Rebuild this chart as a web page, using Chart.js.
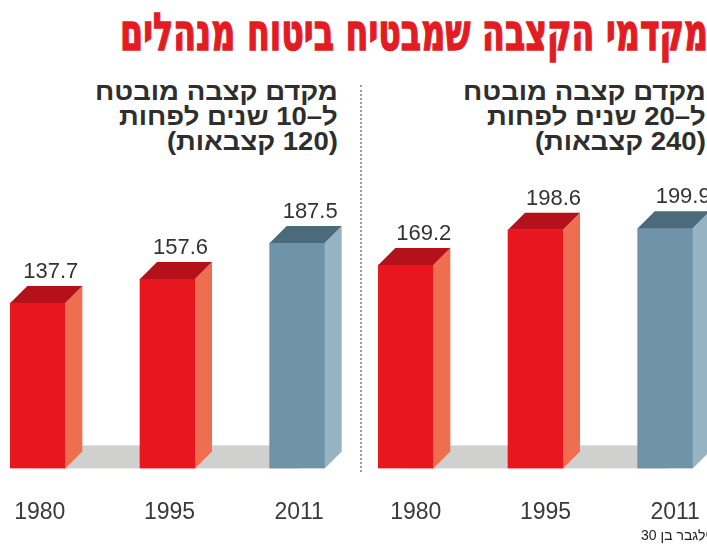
<!DOCTYPE html>
<html lang="he">
<head>
<meta charset="utf-8">
<script src="https://cdn.jsdelivr.net/npm/chart.js@4/dist/chart.umd.min.js"></script>
<style>
  html, body { margin: 0; padding: 0; background: #fff; }
  body { position: relative; width: 707px; height: 553px; overflow: hidden; font-family: 'Liberation Sans', Arial, sans-serif; }
  .title { position: absolute; right: -1px; top: 6px; direction: rtl; white-space: nowrap;
    font: bold 52px/52px 'DejaVu Sans', sans-serif; color: #e31b23; -webkit-text-stroke: 1.5px #e31b23;
    transform-origin: right top; }
  .sub { position: absolute; top: 79px; direction: rtl; text-align: right; width: max-content;
    font: bold 25px/25px 'Liberation Sans', sans-serif; color: #2e2e2e; transform-origin: right top; }
  .sep { position: absolute; left: 360px; top: 85px; height: 387px; border-left: 2px dotted #9a9a9a; }
  .box { position: absolute; top: 150px; width: 389px; height: 406px; }
  .credit { position: absolute; right: -2px; top: 527px; direction: rtl; white-space: nowrap;
    font: 14px 'Liberation Sans', sans-serif; color: #222; }
</style>
</head>
<body>
<div class="title" id="title">מקדמי הקצבה שמבטיח ביטוח מנהלים</div>
<div class="sub" id="subLeft" style="right:369px">מקדם קצבה מובטח<br>ל–10 שנים לפחות<br>(120 קצבאות)</div>
<div class="sub" id="subRight" style="right:1px">מקדם קצבה מובטח<br>ל–20 שנים לפחות<br>(240 קצבאות)</div>
<div class="sep"></div>
<div class="box" style="left:-27px"><canvas id="chart10"></canvas></div>
<div class="box" style="left:341px"><canvas id="chart20"></canvas></div>
<div class="credit">ילגבר בן 30</div>

<script>
// ── Data ─────────────────────────────────────────────────────
const years = ['1980', '1995', '2011'];
const guaranteed10 = [137.7, 157.6, 187.5];   // 120 payments
const guaranteed20 = [169.2, 198.6, 199.9];   // 240 payments

// ── Colours ──────────────────────────────────────────────────
const FRONT = ['#e8161f', '#e8161f', '#6f93a8'];
const SIDE  = ['#f06e50', '#f06e50', '#95b3c3'];
const TOP   = ['#b5111a', '#b5111a', '#4b6b7d'];
const DEPTH = 17;

// squeeze text blocks to the measured widths
function fitWidth(el, w) {
  el.style.transform = `scaleX(${w / el.offsetWidth})`;
}
fitWidth(document.getElementById('title'), 588);
fitWidth(document.getElementById('subLeft'), 243);
fitWidth(document.getElementById('subRight'), 243);

// ── 3D faces, floor band and value labels ────────────────────
const bar3d = {
  id: 'bar3d',
  beforeDatasetsDraw(chart) {
    const bars = chart.getDatasetMeta(0).data;
    const base = chart.scales.y.getPixelForValue(0);
    const ctx = chart.ctx;
    ctx.save();
    ctx.fillStyle = '#d0d0ce';
    ctx.fillRect(bars[0].x, base - 23, bars[bars.length - 1].x - bars[0].x, 23);
    ctx.restore();
  },
  afterDatasetsDraw(chart, args, opts) {
    const ctx = chart.ctx;
    const values = chart.data.datasets[0].data;
    ctx.save();
    chart.getDatasetMeta(0).data.forEach((bar, i) => {
      const { x, y, width, base } = bar.getProps(['x', 'y', 'width', 'base'], true);
      const l = x - width / 2, r = x + width / 2, d = DEPTH;
      ctx.fillStyle = SIDE[i];
      ctx.beginPath();
      ctx.moveTo(r, y); ctx.lineTo(r + d, y - d); ctx.lineTo(r + d, base - d); ctx.lineTo(r, base);
      ctx.closePath(); ctx.fill();
      ctx.fillStyle = TOP[i];
      ctx.beginPath();
      ctx.moveTo(l, y); ctx.lineTo(l + d, y - d); ctx.lineTo(r + d, y - d); ctx.lineTo(r, y);
      ctx.closePath(); ctx.fill();
      ctx.fillStyle = '#333';
      ctx.font = '22px "Liberation Sans", Arial, sans-serif';
      ctx.textAlign = 'center';
      ctx.textBaseline = 'middle';
      ctx.fillText(values[i].toFixed(1), x + opts.labelDx, y - 31);
    });
    ctx.restore();
  },
};

function makeChart(id, values, labelDx, tickShift) {
  return new Chart(document.getElementById(id), {
    type: 'bar',
    data: {
      labels: years,
      datasets: [{ data: values, backgroundColor: FRONT, borderWidth: 0, barThickness: 55 }],
    },
    options: {
      responsive: true,
      maintainAspectRatio: false,
      animation: false,
      layout: { padding: 0 },
      plugins: { legend: { display: false }, tooltip: { enabled: false }, bar3d: { labelDx } },
      scales: {
        x: {
          grid: { display: false, drawTicks: false },
          border: { display: false },
          ticks: { color: '#3a3a3a', font: { family: 'Liberation Sans', size: 23 }, padding: 30, labelOffset: tickShift },
        },
        y: { display: false, min: 0, max: 265 },
      },
    },
    plugins: [bar3d],
  });
}

makeChart('chart10', guaranteed10, 13, 2);
makeChart('chart20', guaranteed20, 18, 10);
</script>
</body>
</html>
